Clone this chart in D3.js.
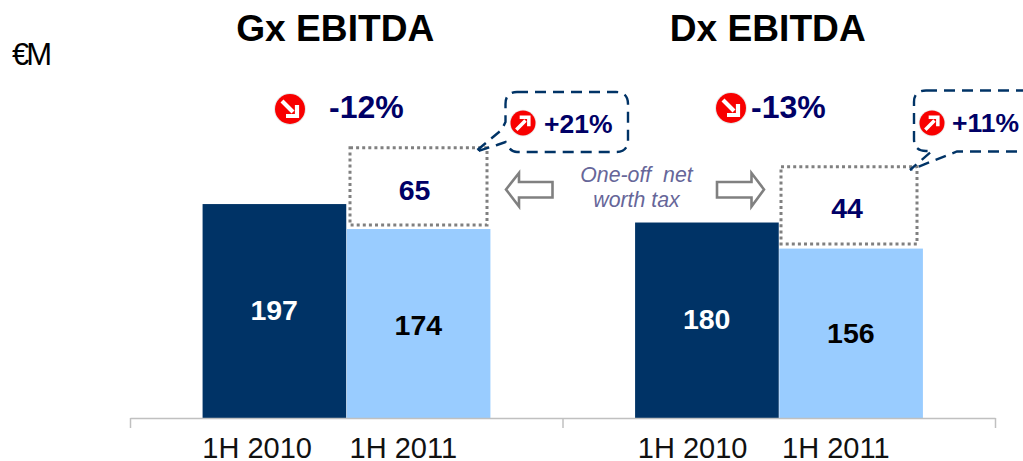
<!DOCTYPE html>
<html><head><meta charset="utf-8">
<script src="https://cdn.jsdelivr.net/npm/d3@7"></script>
<style>html,body{margin:0;padding:0;background:#fff}svg{display:block}text{font-family:"Liberation Sans",Arial,sans-serif}</style>
</head><body><svg id="c" width="1023" height="461"></svg>
<script>
const groups = ["Gx EBITDA", "Dx EBITDA"];
const periods = ["1H 2010", "1H 2011"];
const gxValues = [197, 174];
const dxValues = [180, 156];
const oneOff = [65, 44];
const totalChange = ["-12%", "-13%"];
const adjustedChange = ["+21%", "+11%"];
const note = ["One-off  net", "worth tax"];

const navy = "#003366", light = "#99CCFF", ink = "#000066", gray = "#808080";
const svg = d3.select("#c");
const baseY = 418;
const x0 = d3.scaleBand().domain(groups).range([130, 995]);
const x1 = d3.scaleBand().domain(periods).range([0, x0.bandwidth()]).paddingInner(0).paddingOuter(0.5);
const y = d3.scaleLinear().domain([0, 100]).range([baseY, baseY - 108.6]);
const series = [gxValues, dxValues];
const valueNudge = [[0, 2], [0, 1]];
const labelNudge = [[-17, -15], [-14, -15]];

// bars
groups.forEach((g, gi) => {
  const gg = svg.append("g").attr("transform", `translate(${x0(g)},0)`);
  gg.selectAll("rect").data(periods).join("rect")
    .attr("x", p => x1(p) + 0.5).attr("width", x1.bandwidth() - 0.5)
    .attr("y", (p, i) => y(series[gi][i]))
    .attr("height", (p, i) => baseY - y(series[gi][i]))
    .attr("fill", (p, i) => i ? light : navy);
  gg.selectAll("text.val").data(periods).join("text").attr("class", "val")
    .attr("x", p => x1(p) + x1.bandwidth() / 2)
    .attr("y", (p, i) => (y(series[gi][i]) + baseY) / 2 + 9 + valueNudge[gi][i])
    .attr("text-anchor", "middle").attr("font-size", 28.5).attr("font-weight", "bold")
    .attr("fill", (p, i) => i ? "#000" : "#fff")
    .text((p, i) => series[gi][i]);
  // period labels
  gg.selectAll("text.per").data(periods).join("text").attr("class", "per")
    .attr("x", (p, i) => x1(p) + x1.bandwidth() / 2 + labelNudge[gi][i])
    .attr("y", 458).attr("text-anchor", "middle").attr("font-size", 29).attr("fill", "#111")
    .text(p => p);
  // title
  gg.append("text").attr("x", x0.bandwidth() / 2 - 11).attr("y", 41)
    .attr("text-anchor", "middle").attr("font-size", 36).attr("font-weight", "bold").attr("fill", "#000")
    .attr("textLength", gi ? 196 : 198).attr("lengthAdjust", "spacingAndGlyphs")
    .text(g);
});

// axis
const axis = d3.axisBottom(d3.scalePoint().domain(["a", "b", "c"]).range([130, 995])).tickSize(10).tickSizeOuter(0).tickFormat("");
const ax = svg.append("g").attr("transform", `translate(0,${baseY})`).call(axis);
ax.selectAll("path,line").attr("stroke", "#c0c0c0").attr("stroke-width", 1.5);

// dotted one-off boxes
const boxes = [{x: 350, w: 137}, {x: 781, w: 136}];
const boxTop = [147.7, 166.7], boxH = [77.3, 77.3];
const boxTextDx = [-4, -2], boxTextDy = [52, 51];
oneOff.forEach((v, i) => {
  svg.append("rect").attr("x", boxes[i].x).attr("y", boxTop[i]).attr("width", boxes[i].w).attr("height", boxH[i])
    .attr("fill", "none").attr("stroke", gray).attr("stroke-width", 3).attr("stroke-dasharray", "3 3.1");
  svg.append("text").attr("x", boxes[i].x + boxes[i].w / 2 + boxTextDx[i]).attr("y", boxTop[i] + boxTextDy[i])
    .attr("text-anchor", "middle").attr("font-size", 28.5).attr("font-weight", "bold").attr("fill", ink).text(v);
});

// callouts
const callouts = [
  "M517,92 H616 Q628,92 628,104 V140 Q628,152 616,152 H517 Q510,152 505.5,142 L497,145 L475,152 L501.5,130 L505.5,122 V104 Q505.5,92 517,92 Z",
  "M926,90.5 H1040 V151.5 H957 L910,170 L932,151 H926 Q914,151 914,139 V102 Q914,90.5 926,90.5 Z"
];
svg.selectAll("path.call").data(callouts).join("path").attr("class", "call")
  .attr("d", d => d).attr("fill", "none").attr("stroke", navy).attr("stroke-width", 2.4).attr("stroke-dasharray", "11 7");

// hollow arrows
const arrowL = "M506,189.5 L519,173 V182 H552.5 V197.5 H519 V206.5 Z";
const arrowR = "M764,189.5 L751.5,173 V182 H717 V197.5 H751.5 V206.5 Z";
svg.selectAll("path.arr").data([arrowL, arrowR]).join("path").attr("class", "arr")
  .attr("d", d => d).attr("fill", "#fff").attr("stroke", gray).attr("stroke-width", 2.6);

// note
note.forEach((t, i) => svg.append("text").attr("x", 636.5).attr("y", i ? 207 : 182)
  .attr("text-anchor", "middle").attr("font-size", 21.3).attr("font-style", "italic").attr("fill", "#666699")
  .attr("xml:space", "preserve").text(t));

// icons
function icon(cx, cy, r, dir) {
  const g = svg.append("g").attr("transform", `translate(${cx},${cy}) scale(${r / 15}) scale(1,${dir === "down" ? 1 : -1})`);
  g.append("circle").attr("r", 16).attr("fill", "#e8e8e8");
  g.append("circle").attr("r", 15).attr("fill", "#f80000");
  g.append("path").attr("d", "M-8,-8 L3,3 M7,-4 V7 H-4").attr("fill", "none").attr("stroke", "#fff").attr("stroke-width", 4.2);
}
icon(290, 109, 15, "down");
icon(731, 108, 15, "down");
icon(523, 123, 12.5, "up");
icon(932, 123, 12.5, "up");

// percent labels
const pctPos = [[329, 118], [751, 118]];
totalChange.forEach((t, i) => svg.append("text").attr("x", pctPos[i][0]).attr("y", pctPos[i][1])
  .attr("font-size", 32).attr("font-weight", "bold").attr("fill", ink).text(t));
const adjPos = [[544, 133], [952, 132]];
adjustedChange.forEach((t, i) => svg.append("text").attr("x", adjPos[i][0]).attr("y", adjPos[i][1])
  .attr("font-size", 26.5).attr("font-weight", "bold").attr("fill", ink).text(t));

// unit
svg.append("text").attr("x", 12).attr("y", 65).attr("font-size", 31).attr("letter-spacing", -3).attr("fill", "#000").text("€M");
</script></body></html>
